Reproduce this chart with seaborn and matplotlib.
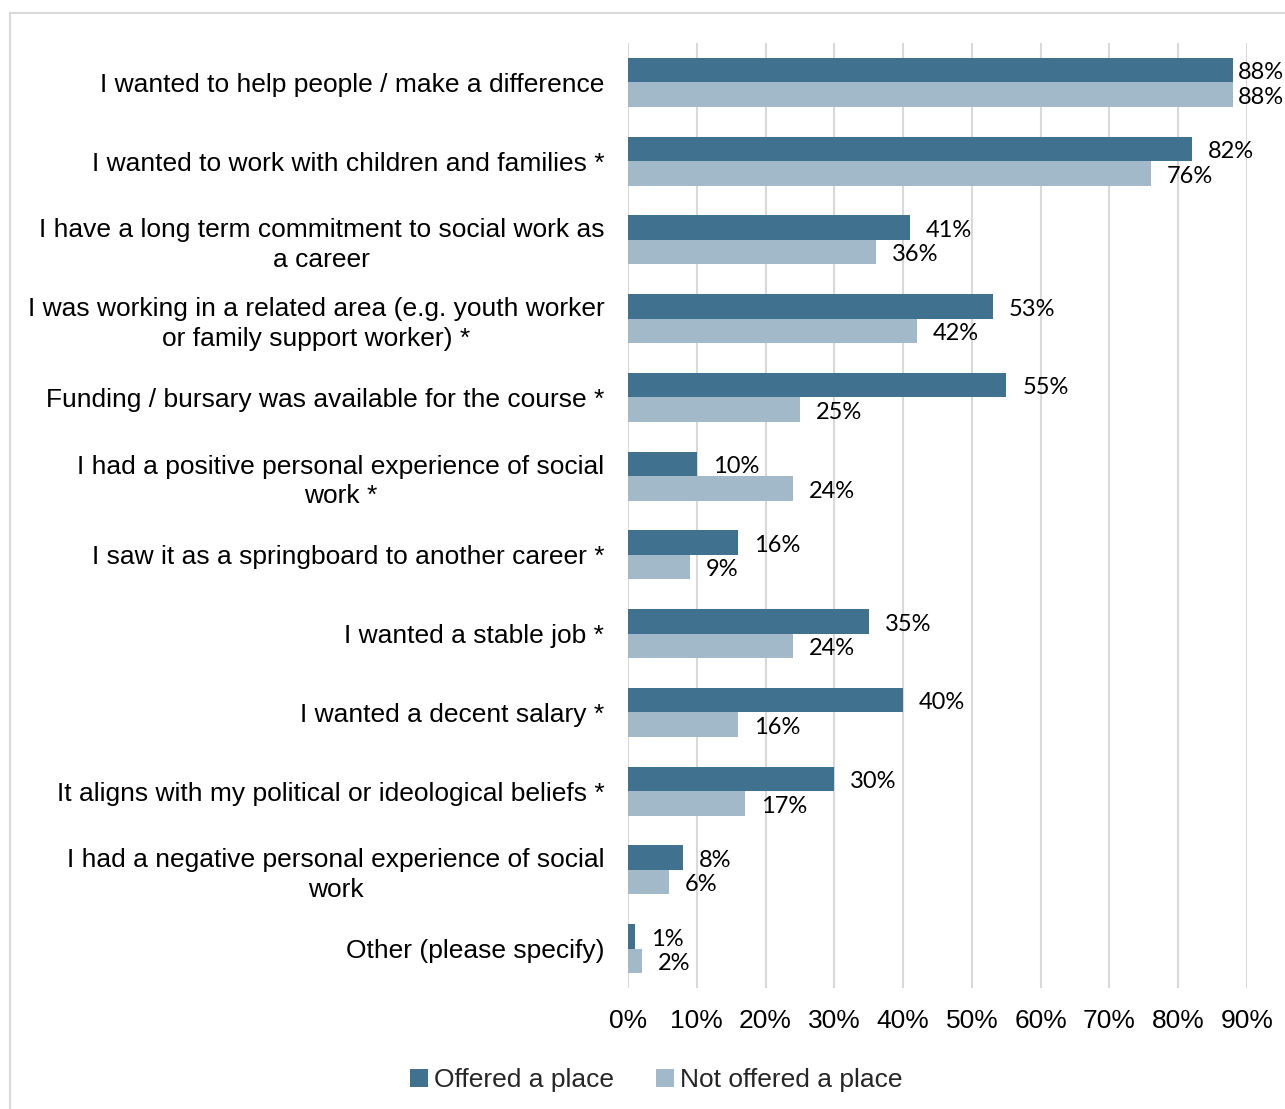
import matplotlib
matplotlib.use("Agg")
import matplotlib.pyplot as plt
from matplotlib.patches import Rectangle
from matplotlib.ticker import PercentFormatter
import numpy as np
import pandas as pd
import seaborn as sns

# Reasons for applying, by outcome
reasons = [
    "I wanted to help people / make a difference",
    "I wanted to work with children and families *",
    "I have a long term commitment to social work as\na career",
    "I was working in a related area (e.g. youth worker\nor family support worker) *",
    "Funding / bursary was available for the course *",
    "I had a positive personal experience of social\nwork *",
    "I saw it as a springboard to another career *",
    "I wanted a stable job *",
    "I wanted a decent salary *",
    "It aligns with my political or ideological beliefs *",
    "I had a negative personal experience of social\nwork",
    "Other (please specify)",
]
offered = [88, 82, 41, 53, 55, 10, 16, 35, 40, 30, 8, 1]
not_offered = [88, 76, 36, 42, 25, 24, 9, 24, 16, 17, 6, 2]
groups = ["Offered a place", "Not offered a place"]
x_ticks = [0, 10, 20, 30, 40, 50, 60, 70, 80, 90]

DARK = "#407290"
LIGHT = "#A2B9C9"
GRID = "#D9D9D9"

df = pd.DataFrame({
    "reason": reasons * 2,
    "value": [v / 100 for v in offered] + [v / 100 for v in not_offered],
    "group": [groups[0]] * len(reasons) + [groups[1]] * len(reasons),
})

sns.set_theme(style="white")
plt.rcParams["font.family"] = ["Liberation Sans", "DejaVu Sans"]

W, H = 1285, 1109
fig = plt.figure(figsize=(W / 100, H / 100), dpi=100)
ax = fig.add_axes([628 / W, 1 - 988 / H, (1247 - 628) / W, (988 - 43) / H])

sns.barplot(data=df, x="value", y="reason", hue="group", order=reasons,
            hue_order=groups, palette=[DARK, LIGHT], width=0.62,
            orient="h", saturation=1, linewidth=0, ax=ax)

ax.set_xlim(0, 0.9)
ax.set_ylim(len(reasons) - 0.5, -0.5)
ax.set_xticks([t / 100 for t in x_ticks])
ax.xaxis.set_major_formatter(PercentFormatter(1.0, decimals=0))
ax.grid(axis="x", color=GRID, linewidth=1.5)
ax.grid(axis="y", visible=False)
ax.set_axisbelow(True)
for s in ax.spines.values():
    s.set_visible(False)
ax.set_xlabel("")
ax.set_ylabel("")
ax.tick_params(axis="y", length=0, pad=17, labelsize=19, labelcolor="black")
ax.tick_params(axis="x", length=0, pad=15, labelsize=19, labelcolor="black")
for lab in ax.get_yticklabels():
    lab.set_multialignment("center")
    lab.set_linespacing(1.3)

# Value labels next to each bar
for container, vals in zip(ax.containers, [offered, not_offered]):
    for patch, v in zip(container.patches, vals):
        y = patch.get_y() + patch.get_height() / 2
        off = 3 if v >= 85 else 11.5
        ax.annotate(f"{v}%", xy=(v / 100, y), xytext=(off, -2),
                    textcoords="offset points", ha="left", va="center",
                    fontsize=17, family="Lato", color="black",
                    annotation_clip=False, clip_on=False)

handles, labels = ax.get_legend_handles_labels()
if ax.get_legend() is not None:
    ax.get_legend().remove()
fig.legend(handles, labels, loc="center", bbox_to_anchor=(656 / W, 1 - 1080 / H),
           ncol=2, frameon=False, fontsize=19, handlelength=0.7,
           handleheight=0.7, handletextpad=0.2, columnspacing=1.6)

# Outer chart border
fig.add_artist(Rectangle((10 / W, -0.1), 1.2, (1 - 13 / H) + 0.1,
                         transform=fig.transFigure, fill=False,
                         edgecolor=GRID, linewidth=1.5))

fig.savefig("out.png", dpi=100)
